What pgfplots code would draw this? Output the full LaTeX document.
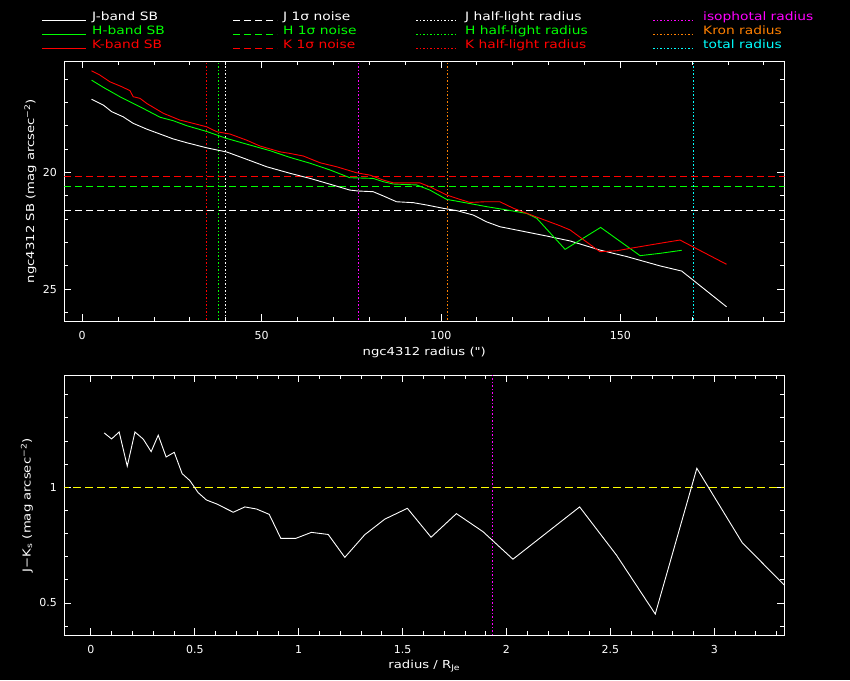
\documentclass[border=0pt]{standalone}
\usepackage{fontspec}
\setmainfont{DejaVu Sans}[FakeStretch=1.2]
\newfontfamily\tickfont{DejaVu Sans}
\newfontfamily\plainfont{DejaVu Sans}[FakeStretch=1.2, Ligatures=TeXOff]
\usepackage{pgfplots}
\pgfplotsset{compat=1.18}
\definecolor{kron}{RGB}{255,128,0}
\definecolor{iso}{RGB}{255,0,255}
\definecolor{tot}{RGB}{0,255,255}
\definecolor{gr}{RGB}{0,255,0}
\definecolor{rd}{RGB}{255,0,0}
\definecolor{yl}{RGB}{255,255,0}
\tikzset{dotline/.style={dash pattern=on 1.5pt off 2pt},
         dashline/.style={dash pattern=on 7pt off 4pt},
         lgtxt/.style={anchor=base west, inner sep=0pt, font=\fontsize{11.5}{13}\selectfont}}
\pgfplotsset{
  sbaxis/.style={
    scale only axis, width=720pt, height=260pt, anchor=south west,
    axis line style={white, line width=1pt},
    tick style={white, line width=0.8pt},
    major tick length=7pt, minor tick length=4pt,
    tick align=inside,
    ticklabel style={text=white, font=\tickfont\fontsize{11}{13}\selectfont},
    yticklabel style={xshift=-4pt},
    xticklabel style={yshift=-6.5pt},
    label style={text=white, font=\fontsize{11}{13}\selectfont},
    /pgf/number format/assume math mode=true,
    every axis plot/.append style={line width=0.9pt},
  },
}
\begin{document}
\begin{tikzpicture}
\useasboundingbox (0pt,0pt) rectangle (850pt,-680pt);
\fill[black] (0pt,0pt) rectangle (850pt,-680pt);
% legend strip
\begin{axis}[at={(0pt,-60pt)}, anchor=south west, scale only axis,
  width=850pt, height=60pt, xmin=0, xmax=850, ymin=0, ymax=60, y dir=reverse,
  hide axis, clip=false, every axis plot/.append style={line width=1pt}]
\addplot[white] coordinates {(42,20.5)(86,20.5)};
\addplot[gr] coordinates {(42,34.5)(86,34.5)};
\addplot[rd] coordinates {(42,48.5)(86,48.5)};
\addplot[white, dashline] coordinates {(233,20.5)(277,20.5)};
\addplot[gr, dashline] coordinates {(233,34.5)(277,34.5)};
\addplot[rd, dashline] coordinates {(233,48.5)(277,48.5)};
\addplot[white, dotline] coordinates {(416,20.5)(456,20.5)};
\addplot[gr, dotline] coordinates {(416,34.5)(456,34.5)};
\addplot[rd, dotline] coordinates {(416,48.5)(456,48.5)};
\addplot[iso, dotline] coordinates {(653,20.5)(694,20.5)};
\addplot[kron, dotline] coordinates {(653,34.5)(694,34.5)};
\addplot[tot, dotline] coordinates {(653,48.5)(694,48.5)};
\node[lgtxt, text=white] at (axis cs:92,20.7) {J-band SB};
\node[lgtxt, text=gr] at (axis cs:92,34.7) {H-band SB};
\node[lgtxt, text=rd] at (axis cs:92,48.7) {K-band SB};
\node[lgtxt, text=white] at (axis cs:283,20.7) {J 1σ noise};
\node[lgtxt, text=gr] at (axis cs:283,34.7) {H 1σ noise};
\node[lgtxt, text=rd] at (axis cs:283,48.7) {K 1σ noise};
\node[lgtxt, text=white] at (axis cs:465,20.7) {J half-light radius};
\node[lgtxt, text=gr] at (axis cs:465,34.7) {H half-light radius};
\node[lgtxt, text=rd] at (axis cs:465,48.7) {K half-light radius};
\node[lgtxt, text=iso] at (axis cs:703,20.7) {isophotal radius};
\node[lgtxt, text=kron] at (axis cs:703,34.7) {Kron radius};
\node[lgtxt, text=tot] at (axis cs:703,48.7) {total radius};
\end{axis}
\begin{axis}[sbaxis, at={(64.3pt,-321pt)},
  xmin=-5, xmax=195.7, ymin=15.23, ymax=26.37, y dir=reverse,
  xtick={0,50,100,150},
  minor xtick={10,20,30,40,60,70,80,90,110,120,130,140,160,170,180,190},
  ytick={20,25}, minor ytick={16,17,18,19,21,22,23,24,26},
  xlabel={ngc4312 radius ({\plainfont"})},
  ylabel={ngc4312 SB (mag arcsec\textsuperscript{−2})},
  xlabel style={at={(axis description cs:0.5,-0.121)}, anchor=center},
  ylabel style={at={(axis description cs:-0.047,0.5)}, anchor=center},
]
% noise levels
\addplot[rd, dashline] coordinates {(-5,20.19) (196,20.19)};
\addplot[gr, dashline] coordinates {(-5,20.60) (196,20.60)};
\addplot[white, dashline] coordinates {(-5,21.63) (196,21.63)};
% radii
\addplot[rd, dotline] coordinates {(34.6,15) (34.6,27)};
\addplot[gr, dotline] coordinates {(38.0,15) (38.0,27)};
\addplot[white, dotline] coordinates {(40.0,15) (40.0,27)};
\addplot[iso, dotline] coordinates {(76.9,15) (76.9,27)};
\addplot[kron, dotline] coordinates {(101.9,15) (101.9,27)};
\addplot[tot, dotline] coordinates {(170.3,15) (170.3,27)};
% J
\addplot[white] coordinates {(2.6,16.87)(5.9,17.12)(8.2,17.40)(11.4,17.62)(14.2,17.90)(18.0,18.15)(21.7,18.36)(25.4,18.57)(29.1,18.73)(34.7,18.95)(40.3,19.13)(45.8,19.44)(51.4,19.76)(57.9,20.04)(63.5,20.26)(69.1,20.51)(74.6,20.76)(76.9,20.80)(81.1,20.83)(83.9,21.01)(87.6,21.26)(92.3,21.30)(96.0,21.40)(100.6,21.54)(104.4,21.64)(109.0,21.83)(112.7,22.12)(116.4,22.33)(122.0,22.50)(129.5,22.73)(136.0,22.94)(144.3,23.33)(151.8,23.61)(161.1,24.01)(167.1,24.23)(179.6,25.76)};
% H
\addplot[gr] coordinates {(2.6,16.05)(5.9,16.36)(10.5,16.76)(16.1,17.19)(21.7,17.64)(25.4,17.79)(29.1,18.00)(34.7,18.25)(40.3,18.55)(45.8,18.79)(52.3,19.07)(57.9,19.36)(63.5,19.61)(69.1,19.90)(74.6,20.23)(81.1,20.26)(83.9,20.40)(86.7,20.50)(93.2,20.54)(96.9,20.76)(101.6,21.16)(105.3,21.26)(112.7,21.47)(118.3,21.61)(123.9,21.76)(126.7,21.97)(134.6,23.30)(144.5,22.36)(155.5,23.57)(161.1,23.47)(167.1,23.34)};
% K
\addplot[rd] coordinates {(2.6,15.65)(4.9,15.83)(7.7,16.12)(11.0,16.33)(13.3,16.50)(14.2,16.76)(16.1,16.83)(18.0,17.05)(22.6,17.47)(27.2,17.76)(30.9,17.90)(34.7,18.05)(37.5,18.26)(41.2,18.36)(45.8,18.62)(49.5,18.87)(55.1,19.12)(57.9,19.19)(61.6,19.30)(66.3,19.59)(70.9,19.76)(76.5,20.02)(80.2,20.12)(83.9,20.33)(86.7,20.45)(94.1,20.45)(96.9,20.62)(101.6,20.97)(105.3,21.16)(108.1,21.29)(112.3,21.26)(116.4,21.26)(120.2,21.54)(127.6,21.97)(133.2,22.29)(136.0,22.47)(144.3,23.40)(149.0,23.36)(154.5,23.21)(161.1,23.04)(166.6,22.90)(179.6,23.94)};
\end{axis}
\begin{axis}[sbaxis, at={(64.3pt,-635.3pt)},
  xmin=-0.128, xmax=3.337, ymin=0.36, ymax=1.484,
  xtick={0,0.5,1,1.5,2,2.5,3},
  minor xtick={0.1,0.2,0.3,0.4,0.6,0.7,0.8,0.9,1.1,1.2,1.3,1.4,1.6,1.7,1.8,1.9,2.1,2.2,2.3,2.4,2.6,2.7,2.8,2.9,3.1,3.2,3.3},
  ytick={0.5,1}, minor ytick={0.4,0.6,0.7,0.8,0.9,1.1,1.2,1.3,1.4},
  xticklabels={0,0.5,1,1.5,2,2.5,3},
  yticklabels={0.5,1},
  xlabel={radius / R\textsubscript{Je}},
  ylabel={J−K\textsubscript{s} (mag arcsec\textsuperscript{−2})},
  xlabel style={at={(axis description cs:0.5,-0.118)}, anchor=center},
  ylabel style={at={(axis description cs:-0.052,0.5)}, anchor=center},
]
\addplot[yl, dash pattern=on 7.5pt off 4.5pt] coordinates {(-0.2,1) (3.4,1)};
\addplot[iso, dotline] coordinates {(1.932,0.3) (1.932,1.5)};
\addplot[white] coordinates {(0.064,1.235)(0.0995,1.209)(0.136,1.239)(0.175,1.091)(0.212,1.239)(0.252,1.208)(0.29,1.154)(0.324,1.225)(0.362,1.131)(0.401,1.151)(0.439,1.059)(0.476,1.029)(0.516,0.977)(0.556,0.945)(0.605,0.928)(0.685,0.892)(0.741,0.915)(0.797,0.906)(0.858,0.883)(0.914,0.779)(0.986,0.779)(1.061,0.805)(1.142,0.796)(1.222,0.697)(1.318,0.795)(1.414,0.862)(1.523,0.909)(1.637,0.784)(1.759,0.886)(1.887,0.808)(2.031,0.689)(2.352,0.915)(2.529,0.707)(2.716,0.452)(2.916,1.082)(3.134,0.761)(3.35,0.565)};
\end{axis}
\end{tikzpicture}
\end{document}
